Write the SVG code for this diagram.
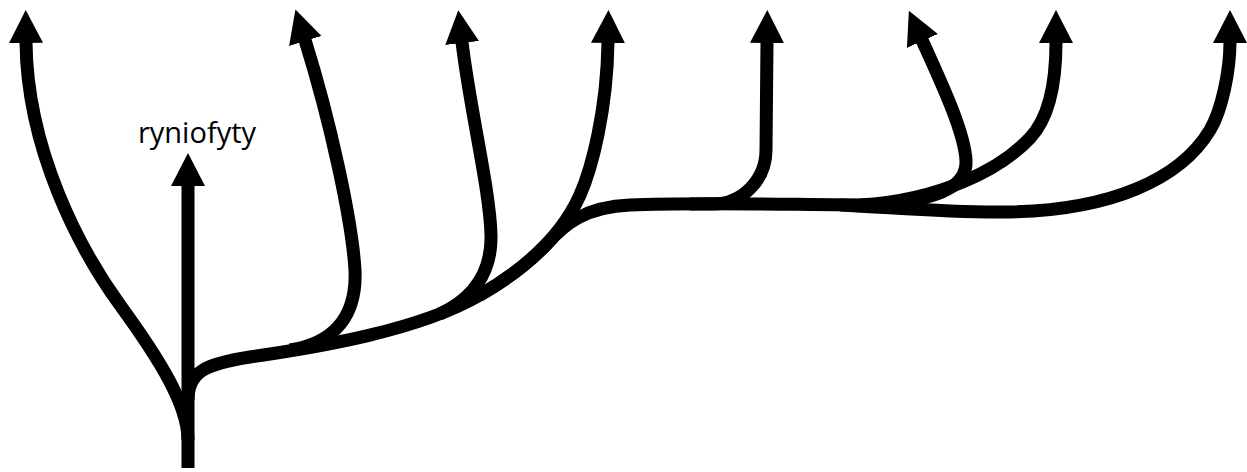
<svg xmlns="http://www.w3.org/2000/svg" width="1247" height="472" viewBox="0 0 1247 472">
<style>
.br{fill:none;stroke:#000;stroke-width:13;stroke-linecap:butt;stroke-linejoin:round}
.arr{marker-end:url(#ah)}
.lbl{font-family:"Open Sans","Liberation Sans",sans-serif;font-size:29px;fill:#000}
</style>
<defs>
<marker id="ah" markerUnits="userSpaceOnUse" markerWidth="36" markerHeight="36" viewBox="0 -18 36 36" refX="1" refY="0" orient="auto">
<path d="M0,-17 L33,0 L0,17 Z" fill="#000"/>
</marker>
</defs>
<rect width="1247" height="472" fill="#fff"/>
<g id="connectors">
<path id="trunk" class="br arr" d="M188,468 L188,185"/>
<path id="arrow1" class="br arr" d="M188,440 C188,405 160,360 120,305 C80,250 27,150 26,42"/>
<path id="main" class="br arr" d="M188,400 C188,372 205,364 250,357 C320,347 420,330 480,295 C520,272 560,240 580,195 C592,168 607,110 608,42"/>
<path id="arrow2" class="br arr" d="M290,350 C335,343 357,315 355,270 C352,220 330,120 305,40"/>
<path id="arrow3" class="br arr" d="M440,314 C470,300 492,275 491,235 C490,190 470,110 462,42"/>
<path id="horizontal" class="br" d="M480,295 C504,281.2 528,264.2 547.7,243 C565,224 585,207 630,205 C700,202 800,205 880,205"/>
<path id="arrow5" class="br arr" d="M690,204 L713,204 C742,204 766,180 766,150 L767,42"/>
<path id="arrow6" class="br arr" d="M880,204 C930,200 968,190 966,160 C964,130 940,80 922,40"/>
<path id="arrow7" class="br arr" d="M860,205 C940,200 1000,170 1030,138 C1050,117 1056,80 1056,42"/>
<path id="arrow8" class="br arr" d="M840,205 C900,208 950,213 1010,212 C1110,210 1180,180 1210,130 C1222,110 1230,70 1230,42"/>
</g>
<g id="node-ryniofyty">
<text class="lbl" x="197" y="143" text-anchor="middle">ryniofyty</text>
</g>
</svg>
